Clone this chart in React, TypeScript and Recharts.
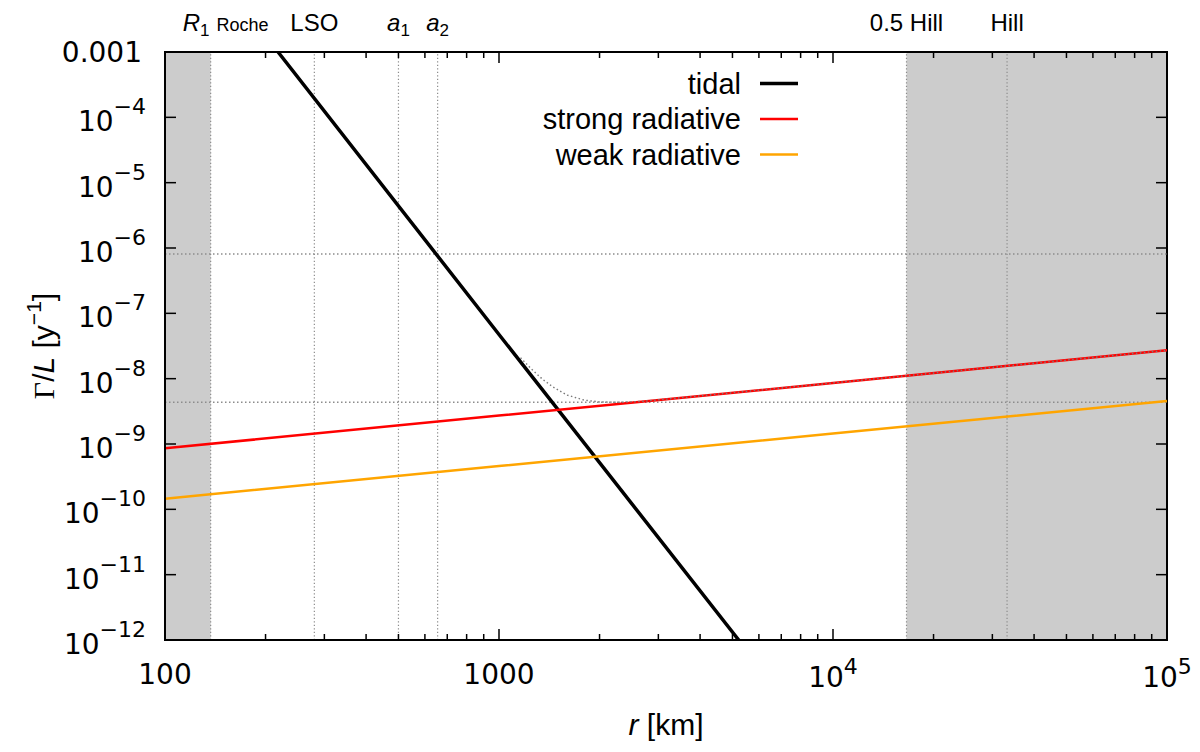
import React from 'react';
import { ComposedChart, Line, XAxis, YAxis, ReferenceArea, ReferenceLine, Legend } from 'recharts';

// ---- data ----
const tidalData = [
  { r: 218, v: 1e-3 },
  { r: 1000, v: 4.75e-8 },
  { r: 5220, v: 1e-12 },
];
const strongData = [
  { r: 100, v: 8.6e-10 },
  { r: 1000, v: 2.72e-9 },
  { r: 10000, v: 8.6e-9 },
  { r: 100000, v: 2.72e-8 },
];
const weakData = [
  { r: 100, v: 1.45e-10 },
  { r: 1000, v: 4.6e-10 },
  { r: 10000, v: 1.45e-9 },
  { r: 100000, v: 4.55e-9 },
];
const combinedData = [
  { r: 1160, v: 2.09e-8 },
  { r: 1250, v: 1.41e-8 },
  { r: 1350, v: 9.8e-9 },
  { r: 1450, v: 7.5e-9 },
  { r: 1600, v: 5.6e-9 },
  { r: 1800, v: 4.7e-9 },
  { r: 2000, v: 4.4e-9 },
  { r: 2300, v: 4.35e-9 },
  { r: 2700, v: 4.5e-9 },
  { r: 3500, v: 5.1e-9 },
  { r: 10000, v: 8.6e-9 },
  { r: 100000, v: 2.72e-8 },
];

const shadedRanges = [
  [100, 137],
  [16600, 100000],
];
const markerR = [137, 280, 500, 655, 16600, 33200];
const markerLabels = ['R_1 Roche', 'LSO', 'a_1', 'a_2', '0.5 Hill', 'Hill'];
const levelLines = [8.1e-7, 4.35e-9];

const xDomain = [100, 100000];
const yDomain = [1e-12, 1e-3];
const xMajorTicks = [100, 1000, 10000, 100000];
const xTickLabels = ['100', '1000', '10^4', '10^5'];
const xMinorTicks = [
  200, 300, 400, 500, 600, 700, 800, 900,
  2000, 3000, 4000, 5000, 6000, 7000, 8000, 9000,
  20000, 30000, 40000, 50000, 60000, 70000, 80000, 90000,
];
const xTicks = [...xMajorTicks, ...xMinorTicks].sort((a, b) => a - b);
const yTicks = [1e-12, 1e-11, 1e-10, 1e-9, 1e-8, 1e-7, 1e-6, 1e-5, 1e-4, 1e-3];
const yTickLabels = ['10^-12', '10^-11', '10^-10', '10^-9', '10^-8', '10^-7', '10^-6', '10^-5', '10^-4', '0.001'];

const seriesMeta = [
  { name: 'tidal', color: '#000000', width: 3.5 },
  { name: 'strong radiative', color: '#ff0000', width: 2.5 },
  { name: 'weak radiative', color: '#ffa500', width: 2.5 },
];

// ---- layout / styles ----
const CHART_W = 1200;
const CHART_H = 752;
const MARGIN = { top: 52, right: 33, bottom: 0, left: 0 };
const PLOT_TOP = MARGIN.top;
const PLOT_RIGHT = CHART_W - MARGIN.right;
const TICK_FONT = '"DejaVu Sans", sans-serif';
const TEXT_FONT = '"Liberation Sans", Arial, sans-serif';
const GRID_GRAY = '#8c8c8c';

function renderPow(label: string, supSize: number, supDy: number) {
  const parts = label.split('^');
  if (parts.length < 2) return label;
  return [
    <tspan key="b">{parts[0]}</tspan>,
    <tspan key="e" fontSize={supSize} dy={supDy}>
      {parts[1].replace('-', '\u2212')}
    </tspan>,
  ];
}

// bottom axis tick: draws the inward tick, its mirror on the top edge, and the label
const BottomTick = (props: any) => {
  const { x, y, payload } = props;
  const idx = xMajorTicks.indexOf(payload.value);
  const major = idx >= 0;
  const len = major ? 11 : 6;
  const label = major ? xTickLabels[idx] : '';
  return (
    <g>
      <line x1={x} x2={x} y1={y} y2={y - len} stroke="#000" strokeWidth={1.5} />
      <line x1={x} x2={x} y1={PLOT_TOP} y2={PLOT_TOP + len} stroke="#000" strokeWidth={1.5} />
      {major && (
        <text
          x={x}
          y={y + (label.includes('^') ? 47 : 44)}
          textAnchor="middle"
          fontFamily={TICK_FONT}
          fontSize={28}
          fill="#000"
        >
          {renderPow(label, 22, -13)}
        </text>
      )}
    </g>
  );
};

// left axis tick: inward tick, mirrored tick on the right edge, label
const LeftTick = (props: any) => {
  const { x, y, payload } = props;
  const idx = yTicks.indexOf(payload.value);
  const label = idx >= 0 ? yTickLabels[idx] : '';
  const pow = label.includes('^');
  return (
    <g>
      <line x1={x} x2={x + 11} y1={y} y2={y} stroke="#000" strokeWidth={1.5} />
      <line x1={PLOT_RIGHT} x2={PLOT_RIGHT - 11} y1={y} y2={y} stroke="#000" strokeWidth={1.5} />
      <text
        x={x - (pow ? 19 : 23)}
        y={y + (pow ? 14 : 10)}
        textAnchor="end"
        fontFamily={TICK_FONT}
        fontSize={28}
        fill="#000"
      >
        {renderPow(label, 22, -17)}
      </text>
    </g>
  );
};

const TopMarkerLabel = (props: any, label: string) => {
  const vb = props.viewBox || {};
  const x = vb.x ?? 0;
  const y = 31;
  if (label.startsWith('R_1')) {
    return (
      <text x={x - 28} y={y} fontFamily={TEXT_FONT} fontSize={24} fill="#000">
        <tspan fontStyle="italic">R</tspan>
        <tspan fontSize={17} dy={5}>1</tspan>
        <tspan fontSize={18} dy={-5} dx={7}>Roche</tspan>
      </text>
    );
  }
  if (label.includes('_')) {
    const [b, s] = label.split('_');
    return (
      <text x={x} y={y} textAnchor="middle" fontFamily={TEXT_FONT} fontSize={24} fill="#000">
        <tspan fontStyle="italic">{b}</tspan>
        <tspan fontSize={17} dy={5}>{s}</tspan>
      </text>
    );
  }
  return (
    <text x={x} y={y} textAnchor="middle" fontFamily={TEXT_FONT} fontSize={24} fill="#000">
      {label}
    </text>
  );
};

const XTitle = (props: any) => {
  const vb = props.viewBox || { x: 165, y: 640, width: 1002, height: 112 };
  return (
    <text x={vb.x + vb.width / 2} y={vb.y + 95} textAnchor="middle" fontFamily={TEXT_FONT} fontSize={30} fill="#000">
      <tspan fontStyle="italic">r</tspan>
      <tspan> [km]</tspan>
    </text>
  );
};

const YTitle = (props: any) => {
  const vb = props.viewBox || { x: 0, y: 52, width: 165, height: 588 };
  const cx = vb.x + 54;
  const cy = vb.y + vb.height / 2;
  return (
    <text
      transform={`translate(${cx},${cy}) rotate(-90)`}
      textAnchor="middle"
      fontFamily={TEXT_FONT}
      fontSize={30}
      fill="#000"
    >
      <tspan fontFamily='"Liberation Serif", "DejaVu Serif", serif'>Γ</tspan>
      <tspan>/</tspan>
      <tspan fontStyle="italic">L</tspan>
      <tspan> [y</tspan>
      <tspan fontSize={21} dy={-13}>{'\u22121'}</tspan>
      <tspan dy={13}>]</tspan>
    </text>
  );
};

const LegendBox = () => (
  <svg width={1200} height={200} style={{ display: 'block' }}>
    {seriesMeta.map((s, i) => {
      const cy = 83.5 + i * 35.5;
      return (
        <g key={s.name}>
          <text x={741} y={cy + 10} textAnchor="end" fontFamily={TEXT_FONT} fontSize={29} fill="#000">
            {s.name}
          </text>
          <line x1={760} x2={798} y1={cy} y2={cy} stroke={s.color} strokeWidth={s.width} />
        </g>
      );
    })}
  </svg>
);

export default function App() {
  return (
    <div style={{ position: 'absolute', left: 0, top: 0, width: CHART_W, height: CHART_H, background: '#fff' }}>
      <ComposedChart width={CHART_W} height={CHART_H} margin={MARGIN}>
        <XAxis
          type="number"
          dataKey="r"
          scale="log"
          domain={xDomain}
          allowDataOverflow
          ticks={xTicks}
          interval={0}
          tickSize={0}
          tickMargin={0}
          tickLine={false}
          tick={BottomTick}
          axisLine={{ stroke: '#000', strokeWidth: 2 }}
          height={112}
          label={{ content: (p: any) => <XTitle {...p} /> }}
        />
        <YAxis
          type="number"
          scale="log"
          domain={yDomain}
          allowDataOverflow
          ticks={yTicks}
          interval={0}
          tickSize={0}
          tickMargin={0}
          tickLine={false}
          tick={LeftTick}
          axisLine={{ stroke: '#000', strokeWidth: 2 }}
          width={165}
          label={{ content: (p: any) => <YTitle {...p} /> }}
        />

        {shadedRanges.map(([a, b]) => (
          <ReferenceArea key={`s${a}`} x1={a} x2={b} fill="#cccccc" fillOpacity={1} stroke="none" />
        ))}
        {levelLines.map((v) => (
          <ReferenceLine key={`h${v}`} y={v} stroke={GRID_GRAY} strokeWidth={1.5} strokeDasharray="1.5 2.5" />
        ))}
        {markerR.map((r, i) => (
          <ReferenceLine
            key={`m${r}`}
            x={r}
            stroke={GRID_GRAY}
            strokeWidth={1.2}
            strokeDasharray="1.2 2.3"
            label={(p: any) => TopMarkerLabel(p, markerLabels[i])}
          />
        ))}

        <Line
          data={tidalData}
          dataKey="v"
          name="tidal"
          type="linear"
          stroke="#000000"
          strokeWidth={3.5}
          dot={false}
          isAnimationActive={false}
        />
        <Line
          data={strongData}
          dataKey="v"
          name="strong radiative"
          type="linear"
          stroke="#ff0000"
          strokeWidth={2.5}
          dot={false}
          isAnimationActive={false}
        />
        <Line
          data={weakData}
          dataKey="v"
          name="weak radiative"
          type="linear"
          stroke="#ffa500"
          strokeWidth={2.5}
          dot={false}
          isAnimationActive={false}
        />
        <Line
          data={combinedData}
          dataKey="v"
          name="total"
          legendType="none"
          type="linear"
          stroke="#7a7a7a"
          strokeWidth={1.4}
          strokeDasharray="1.5 2.5"
          dot={false}
          isAnimationActive={false}
        />
        <ReferenceArea
          x1={xDomain[0]}
          x2={xDomain[1]}
          y1={yDomain[0]}
          y2={yDomain[1]}
          fill="none"
          fillOpacity={0}
          stroke="#000"
          strokeWidth={2}
        />
        <Legend
          layout="vertical"
          align="center"
          verticalAlign="middle"
          content={() => <LegendBox />}
          wrapperStyle={{ position: 'absolute', left: 0, top: 0, width: 1200, height: 200, pointerEvents: 'none' }}
        />
      </ComposedChart>
    </div>
  );
}
